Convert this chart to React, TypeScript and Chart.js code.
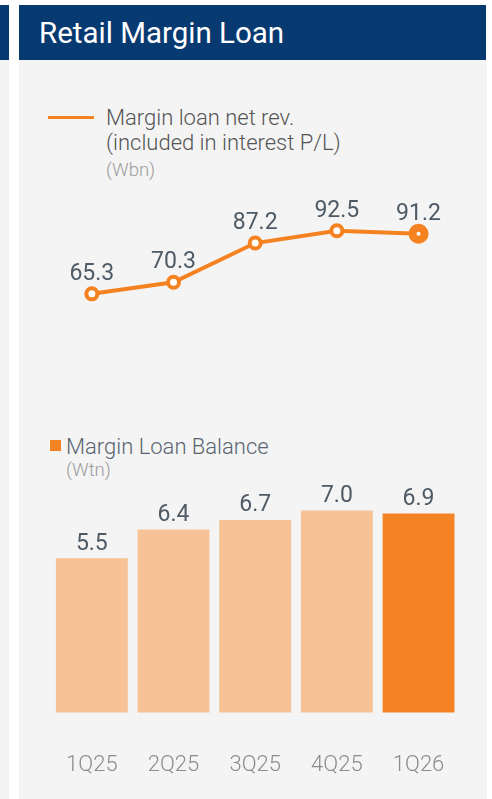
import React, { useEffect, useRef } from "react";
import { Chart, registerables } from "chart.js";

Chart.register(...registerables);

const categories = ["1Q25", "2Q25", "3Q25", "4Q25", "1Q26"];
const netRevenue = [65.3, 70.3, 87.2, 92.5, 91.2];
const loanBalance = [5.5, 6.4, 6.7, 7.0, 6.9];

const title = "Retail Margin Loan";
const lineLegend = ["Margin loan net rev.", "(included in interest P/L)"];
const lineUnit = "(Wbn)";
const barLegend = "Margin Loan Balance";
const barUnit = "(Wtn)";

const NAVY = "#083a72";
const PANEL = "#f4f4f4";
const ORANGE = "#f58220";
const BAR_LIGHT = "#f6c296";
const BAR_DARK = "#f48323";
const VALUE_COLOR = "#4e5a65";
const FONT = "Roboto, 'Liberation Sans', sans-serif";

const valueLabels = {
  id: "valueLabels",
  afterDatasetsDraw(chart: any) {
    const ctx = chart.ctx;
    ctx.save();
    ctx.font = `400 23px ${FONT}`;
    ctx.fillStyle = VALUE_COLOR;
    ctx.textAlign = "center";
    ctx.textBaseline = "alphabetic";
    chart.data.datasets.forEach((ds: any, di: number) => {
      const meta = chart.getDatasetMeta(di);
      meta.data.forEach((el: any, i: number) => {
        const v = ds.data[i];
        const off = ds.type === "line" ? 14 : 8.5;
        ctx.fillText(v.toFixed(1), el.x, el.y - off);
      });
    });
    ctx.restore();
  },
};

function ChartCanvas() {
  const ref = useRef<HTMLCanvasElement | null>(null);
  useEffect(() => {
    if (!ref.current) return;
    const n = categories.length;
    const chart = new Chart(ref.current, {
      type: "bar",
      data: {
        labels: categories,
        datasets: [
          {
            type: "line",
            label: lineLegend.join(" "),
            data: netRevenue,
            yAxisID: "yLine",
            borderColor: ORANGE,
            borderWidth: 4,
            pointBackgroundColor: "#ffffff",
            pointBorderColor: ORANGE,
            pointRadius: netRevenue.map((_, i) => (i === n - 1 ? 6 : 5.5)),
            pointBorderWidth: netRevenue.map((_, i) => (i === n - 1 ? 8 : 4)),
            order: 0,
          } as any,
          {
            type: "bar",
            label: barLegend,
            data: loanBalance,
            yAxisID: "yBar",
            backgroundColor: loanBalance.map((_, i) => (i === n - 1 ? BAR_DARK : BAR_LIGHT)),
            barPercentage: 0.88,
            categoryPercentage: 1,
            order: 1,
          } as any,
        ],
      },
      options: {
        animation: false,
        responsive: false,
        maintainAspectRatio: false,
        devicePixelRatio: 1,
        layout: { padding: { left: 32, right: 27, top: 40, bottom: 21 } },
        plugins: {
          legend: { display: false },
          tooltip: { enabled: false },
          title: { display: false },
        },
        scales: {
          x: {
            grid: { display: false, drawTicks: false },
            border: { display: false },
            ticks: {
              padding: 40,
              color: "#8c8c8c",
              font: { family: FONT, size: 22, weight: "300" as any },
            },
          },
          yBar: {
            display: false,
            position: "left",
            min: 0.648,
            max: 19.893,
          },
          yLine: {
            display: false,
            position: "right",
            min: -115.3,
            max: 148.9,
          },
        },
      },
      plugins: [valueLabels],
    });
    return () => chart.destroy();
  }, []);
  return (
    <canvas
      ref={ref}
      width={468}
      height={780}
      style={{ position: "absolute", left: 19, top: 60, width: 468, height: 780 }}
    />
  );
}

export default function App() {
  const abs = (s: React.CSSProperties): React.CSSProperties => ({ position: "absolute", ...s });
  return (
    <div
      style={abs({
        left: 0,
        top: 0,
        width: 492,
        height: 799,
        overflow: "hidden",
        background: "#ffffff",
        fontFamily: FONT,
      })}
    >
      {/* left neighbouring panel */}
      <div style={abs({ left: 0, top: 5, width: 9, height: 55, background: NAVY })} />
      <div style={abs({ left: 0, top: 60, width: 9, height: 739, background: PANEL })} />
      {/* main panel */}
      <div style={abs({ left: 19, top: 5, width: 467, height: 55, background: NAVY })} />
      <div style={abs({ left: 19, top: 60, width: 468, height: 739, background: PANEL })} />
      <div
        style={abs({
          left: 39,
          top: 18,
          fontSize: 29.5,
          lineHeight: "30px",
          color: "#ffffff",
          fontWeight: 400,
          whiteSpace: "nowrap",
        })}
      >
        {title}
      </div>

      {/* line legend */}
      <div style={abs({ left: 48, top: 116, width: 46, height: 3, background: ORANGE })} />
      <div
        style={abs({
          left: 106,
          top: 106,
          fontSize: 22,
          lineHeight: "24.7px",
          fontWeight: 300,
          color: "#555555",
          whiteSpace: "nowrap",
        })}
      >
        {lineLegend.map((t) => (
          <div key={t}>{t}</div>
        ))}
      </div>
      <div
        style={abs({
          left: 106,
          top: 161,
          fontSize: 18.5,
          lineHeight: "18px",
          fontWeight: 300,
          color: "#9c9c9c",
          whiteSpace: "nowrap",
        })}
      >
        {lineUnit}
      </div>

      {/* bar legend */}
      <div style={abs({ left: 50, top: 440, width: 11, height: 11, background: BAR_DARK })} />
      <div
        style={abs({
          left: 66,
          top: 435,
          fontSize: 22,
          lineHeight: "24.7px",
          fontWeight: 300,
          color: "#5a6470",
          whiteSpace: "nowrap",
        })}
      >
        {barLegend}
      </div>
      <div
        style={abs({
          left: 66,
          top: 461,
          fontSize: 18.5,
          lineHeight: "18px",
          fontWeight: 300,
          color: "#9c9c9c",
          whiteSpace: "nowrap",
        })}
      >
        {barUnit}
      </div>

      <ChartCanvas />
    </div>
  );
}
